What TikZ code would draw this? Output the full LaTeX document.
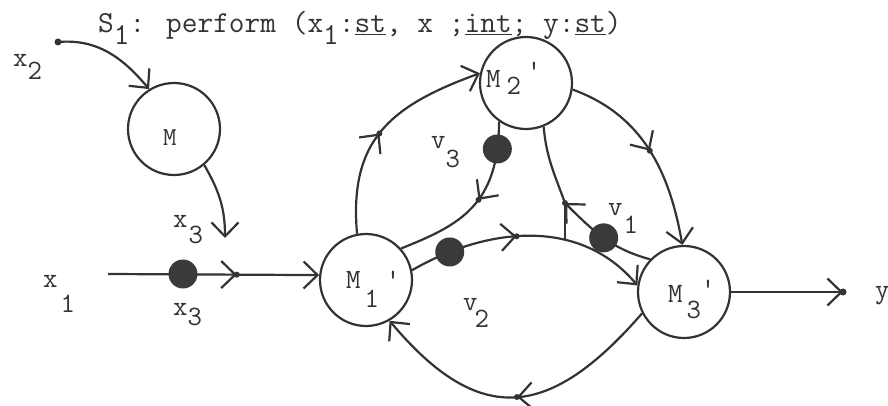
\documentclass[tikz,border=0pt]{standalone}
\usetikzlibrary{arrows.meta,decorations.markings}
\definecolor{ink}{HTML}{333333}
\definecolor{tok}{HTML}{3A3A3A}
\newcommand\dn[2]{\raisebox{-#1pt}{#2}}
\begin{document}
\begin{tikzpicture}[x=1pt,y=1pt, line width=2.2pt, color=ink,
  >={Straight Barb[length=14pt,width=27pt]},
  state/.style={circle, draw=ink, line width=2.2pt, minimum size=92pt, inner sep=0pt},
  token/.style={circle, fill=tok, minimum size=29pt, inner sep=0pt},
  lbl/.style={anchor=base west, inner sep=0pt, text=ink, font=\fontsize{28pt}{30pt}\selectfont\ttfamily},
  midarr/.style={postaction={decorate, decoration={markings, mark=at position #1 with {\arrow{>}\fill[ink] (0,0) circle (3pt);}}}},
]
\useasboundingbox (0,0) rectangle (888,405);

% states
\node[state] (M) at (174,276) {};
\node[state] (M1p) at (366,125) {};
\node[state] (M2p) at (526,322) {};
\node[state] (M3p) at (684,113) {};

% free ends
\coordinate (x2s) at (58,363);
\coordinate (x1s) at (108,131);
\coordinate (x3e) at (225,167);
\coordinate (ye) at (843,113);
\coordinate (v1a) at (565,202);
\coordinate (v1b) at (565,166);

% connectors
\draw[->] (x2s) to[out=5,in=130] (M.122);
\fill (x2s) circle (3.5pt);
\draw[->] (M.-50) to[out=-60,in=90] (x3e);
\draw[->, midarr=0.61] (x1s) -- (M1p.174);
\draw[->] (M3p.east) -- (ye);
\fill (ye) circle (3.5pt);

\draw[->, midarr=0.47] (M1p.101) to[out=95,in=200,looseness=1.2] (M2p.168);
\draw[->, midarr=0.5] (M2p.-8) to[out=-20,in=100] (M3p.92);
\draw[->, midarr=0.45] (M1p.12) to[out=30,in=130] coordinate[pos=0.16] (c4) (M3p.172);
\draw[->, midarr=0.5] (M3p.207) to[out=-131,in=-50,looseness=1.42] (M1p.-60);
\draw[midarr=0.47] (M2p.-125) .. controls (499,200) and (460,180) .. (M1p.42) coordinate[pos=0.12] (c3);
\draw[->] (M3p.136) to[out=165,in=-45] coordinate[pos=0.5] (c1) (v1a);
\fill (v1a) circle (3pt);
\draw (v1a) to[out=110,in=-85] (M2p.-68);
\draw (v1a) -- (v1b);

% tokens
\node[token] (t1) at (183,131) {};
\node[token] (t2) at (c3) {};
\node[token] (t3) at (c1) {};
\node[token] (t4) at (c4) {};

% labels
\node[lbl, font=\fontsize{30.5pt}{32pt}\selectfont\ttfamily] (S1) at (97,372) {S\dn{12}{1}: perform (x\dn{12}{1}:\underline{st}, x ;\underline{int}; y:\underline{st})};
\node[lbl] (x2t) at (12,338) {x\hspace{0pt}\dn{13}{2}};
\node[lbl] (x1t) at (42,118) {x\hspace{3pt}\dn{25}{1}};
\node[lbl] (x3a) at (172,178) {x\hspace{1pt}\dn{16}{3}};
\node[lbl] (x3b) at (172,90) {x\dn{10}{3}};
\node[lbl] (v3t) at (430,257) {v\dn{19}{3}};
\node[lbl] (v1t) at (607,190) {v\hspace{1pt}\dn{18}{1}};
\node[lbl] (v2t) at (462,95) {v\hspace{-3pt}\dn{17}{2}};
\node[lbl, font=\fontsize{26pt}{28pt}\selectfont\ttfamily] (Mt) at (162,260) {M};
\node[lbl] (M1t) at (345,117) {M\hspace{4pt}\dn{19}{1}\hspace{7pt}\textquotesingle};
\node[lbl] (M2t) at (485,317) {M\hspace{6pt}\dn{7}{2}\hspace{6pt}\raisebox{8pt}{\textquotesingle}};
\node[lbl] (M3t) at (667,103) {M\hspace{4pt}\dn{16}{3}\raisebox{5pt}{\textquotesingle}};
\node[lbl] (yt) at (874,107) {y};
\end{tikzpicture}
\end{document}
